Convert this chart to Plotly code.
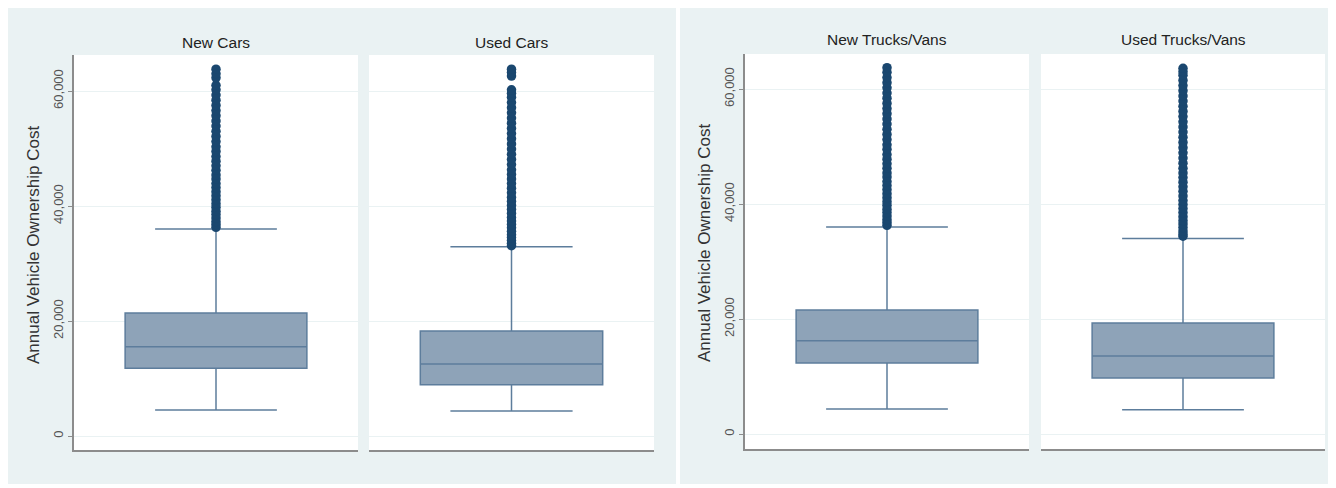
import plotly.graph_objects as go

# ---------------- data ----------------
panels = ["New Cars", "Used Cars", "New Trucks/Vans", "Used Trucks/Vans"]

q1_vals = [11800, 8900, 12350, 9750]
median_vals = [15500, 12500, 16200, 13550]
q3_vals = [21400, 18250, 21550, 19300]
lower_whisker = [4500, 4350, 4350, 4200]
upper_whisker = [36000, 32900, 36000, 34000]

outliers_new_cars = [36300, 36800, 37300, 37900, 38500, 39100, 39800, 40400, 41100, 41800,
                     42500, 43200, 43900, 44700, 45400, 46200, 47000, 47800, 48600, 49500,
                     50300, 51200, 52100, 53000, 53900, 54800, 55700, 56600, 57500, 58400,
                     59300, 60200, 61000, 62300, 63000, 63800]
outliers_used_cars = [33100, 33500, 34000, 34500, 35000, 35600, 36200, 36800, 37400, 38000,
                      38700, 39400, 40100, 40800, 41500, 42300, 43100, 43900, 44700, 45500,
                      46300, 47200, 48100, 49000, 49900, 50800, 51700, 52600, 53500, 54400,
                      55300, 56200, 57100, 58000, 58900, 59600, 60200, 62600, 63200, 63800]
outliers_new_trucks = [36300, 36800, 37300, 37900, 38500, 39100, 39800, 40400, 41100, 41800,
                       42500, 43200, 43900, 44700, 45400, 46200, 47000, 47800, 48600, 49500,
                       50300, 51200, 52100, 53000, 53900, 54800, 55700, 56600, 57500, 58400,
                       59300, 60200, 61100, 62000, 62900, 63700]
outliers_used_trucks = [34400, 34800, 35300, 35900, 36500, 37100, 37800, 38500, 39200, 39900,
                        40600, 41400, 42200, 43000, 43800, 44600, 45400, 46200, 47100, 48000,
                        48900, 49800, 50700, 51600, 52500, 53400, 54300, 55200, 56100, 57000,
                        57900, 58800, 59700, 60600, 61500, 62400, 63000, 63600]
outliers = [outliers_new_cars, outliers_used_cars, outliers_new_trucks, outliers_used_trucks]

tick_vals = [0, 20000, 40000, 60000]
tick_text = ["0", "20,000", "40,000", "60,000"]
y_title = "Annual Vehicle Ownership Cost"

# ---------------- style ----------------
OFF = 8                      # page body margin
W, H = 1336 - OFF, 488 - OFF
BG = "#eaf2f3"
BOX_FILL = "#8ea3b8"
BOX_LINE = "#5d7d9c"
DOT = "#1a476f"
FONT = "Liberation Sans, Arial, sans-serif"


def fx(X):
    return max(0.0, min(1.0, (X - OFF) / W))


def fy(Y):
    return max(0.0, min(1.0, 1 - (Y - OFF) / H))


# panel screen boxes: (left, right, top, bottom)
px = [(74, 358, 55, 450), (369, 654, 55, 450), (745, 1029, 54, 449), (1041, 1325, 54, 449)]
yranges = [[-2435, 66261], [-2435, 66261], [-2609, 66087], [-2609, 66087]]
title_y = [43, 43, 40, 40]

fig = go.Figure()

# graph-region backgrounds, then white plot regions on top of them
for x0, x1 in [(6, 676), (680, 1336)]:
    fig.add_shape(type="rect", xref="paper", yref="paper", layer="below",
                  x0=fx(x0), x1=fx(x1), y0=fy(484), y1=fy(8),
                  fillcolor=BG, line=dict(width=0))
for (l, r, t, b) in px:
    fig.add_shape(type="rect", xref="paper", yref="paper", layer="below",
                  x0=fx(l), x1=fx(r), y0=fy(b), y1=fy(t),
                  fillcolor="white", line=dict(width=0))

for i in range(4):
    n = "" if i == 0 else str(i + 1)
    xa, ya = "x" + n, "y" + n
    fig.add_trace(go.Box(
        x=[0], q1=[q1_vals[i]], median=[median_vals[i]], q3=[q3_vals[i]],
        lowerfence=[lower_whisker[i]], upperfence=[upper_whisker[i]],
        width=0.64, whiskerwidth=0.67, fillcolor=BOX_FILL,
        line=dict(color=BOX_LINE, width=1.5), boxpoints=False,
        xaxis=xa, yaxis=ya, showlegend=False, hoverinfo="y"))
    fig.add_trace(go.Scatter(
        x=[0] * len(outliers[i]), y=outliers[i], mode="markers",
        marker=dict(color=DOT, size=9.5, line=dict(width=0)),
        xaxis=xa, yaxis=ya, showlegend=False))

    l, r, t, b = px[i]
    first = i in (0, 2)
    fig.layout["xaxis" + n] = dict(
        domain=[fx(l), fx(r)], range=[-0.5, 0.5], showticklabels=False, ticks="",
        showgrid=False, zeroline=False, showline=True, linecolor="#8c8c8c", linewidth=2,
        anchor=ya, fixedrange=True)
    fig.layout["yaxis" + n] = dict(
        domain=[fy(b), fy(t)], range=yranges[i], tickvals=tick_vals,
        ticktext=tick_text, tickangle=-90, showticklabels=first,
        ticks="outside" if first else "", ticklen=4, tickcolor="#8c8c8c",
        tickfont=dict(family=FONT, size=13, color="#555555"),
        showgrid=True, gridcolor=BG, gridwidth=1, zeroline=False,
        showline=first, linecolor="#8c8c8c", linewidth=1.5, anchor=xa, fixedrange=True)

    fig.add_annotation(text=panels[i], x=fx((l + r) / 2), y=fy(title_y[i]),
                       xref="paper", yref="paper", xanchor="center", yanchor="middle",
                       showarrow=False, font=dict(family=FONT, size=15.5, color="#222222"))

# y-axis titles
for xc, yc in [(33, 245), (705, 243)]:
    fig.add_annotation(text=y_title, x=fx(xc), y=fy(yc), xref="paper", yref="paper",
                       xanchor="center", yanchor="middle", textangle=-90, showarrow=False,
                       font=dict(family=FONT, size=17, color="#333333"))

fig.update_layout(width=W, height=H, margin=dict(l=0, r=0, t=0, b=0),
                  paper_bgcolor="white", plot_bgcolor="white", showlegend=False,
                  font=dict(family=FONT))

fig.write_html("out.html")
